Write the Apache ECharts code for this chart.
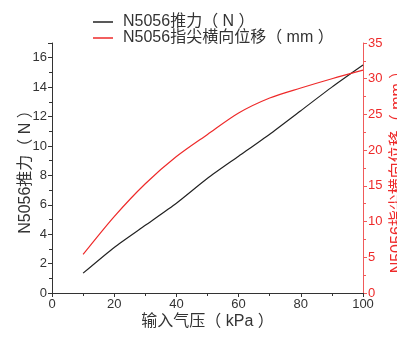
<!DOCTYPE html>
<html>
<head>
<meta charset="utf-8">
<script src="https://cdn.jsdelivr.net/npm/echarts@6/dist/echarts.min.js"></script>
<style>
  html, body { margin: 0; padding: 0; background: #fff; }
  #chart { width: 397px; height: 338px; }
</style>
</head>
<body>
<div id="chart"></div>
<script>
const pressure = [10, 20, 30, 40, 50, 60, 70, 80, 90, 100];
const thrust = [1.35, 3.1, 4.6, 6.1, 7.8, 9.3, 10.8, 12.4, 14.0, 15.5];
const displacement = [5.4, 10.7, 15.3, 19.1, 22.2, 25.2, 27.3, 28.7, 30.0, 31.2];

const font = 'Liberation Sans, Arial, Noto Sans CJK SC, sans-serif';
const black = '#222';
const red = '#ee2a2a';
const redAxis = '#f05a5a';

const chart = echarts.init(document.getElementById('chart'));

chart.setOption({
  animation: false,
  textStyle: { fontFamily: font },
  legend: {
    orient: 'vertical',
    left: 88,
    top: 9,
    itemWidth: 20,
    itemHeight: 1.5,
    itemGap: 0,
    icon: 'rect',
    textStyle: { fontSize: 16, color: '#333', fontFamily: font, padding: [0, 0, 0, 5] },
    data: ['N5056推力（ N ）', 'N5056指尖横向位移（ mm ）']
  },
  grid: { left: 52, right: 34, top: 43, bottom: 45, outerBoundsMode: 'none' },
  xAxis: {
    type: 'value',
    min: 0,
    max: 100,
    interval: 20,
    name: '输入气压（ kPa ）',
    nameLocation: 'middle',
    nameGap: 21,
    nameMoveOverlap: false,
    nameTextStyle: { fontSize: 16, color: '#333', fontFamily: font },
    axisLine: { lineStyle: { color: '#333', width: 1 } },
    axisTick: { length: 4, lineStyle: { color: '#333' } },
    minorTick: { show: true, splitNumber: 2, length: 3, lineStyle: { color: '#333' } },
    axisLabel: { fontSize: 13, color: '#333', margin: 5 },
    splitLine: { show: false }
  },
  yAxis: [
    {
      type: 'value',
      min: 0,
      max: 17,
      interval: 2,
      position: 'left',
      name: 'N5056推力（ N ）',
      nameLocation: 'middle',
      nameRotate: 90,
      nameGap: 18,
      nameMoveOverlap: false,
      nameTextStyle: { fontSize: 16, color: '#333', fontFamily: font },
      axisLine: { show: true, lineStyle: { color: '#333', width: 1 } },
      axisTick: { length: 4, lineStyle: { color: '#333' } },
      minorTick: { show: true, splitNumber: 2, length: 3, lineStyle: { color: '#333' } },
      axisLabel: { fontSize: 13, color: '#333', margin: 5, showMaxLabel: false },
      splitLine: { show: false }
    },
    {
      type: 'value',
      min: 0,
      max: 35,
      interval: 5,
      position: 'right',
      alignTicks: false,
      name: 'N5056指尖横向位移（ mm ）',
      nameLocation: 'middle',
      nameRotate: 90,
      nameGap: 27,
      nameMoveOverlap: false,
      nameTextStyle: { fontSize: 16, color: red, fontFamily: font },
      axisLine: { show: true, lineStyle: { color: redAxis, width: 1 } },
      axisTick: { length: 4, lineStyle: { color: redAxis } },
      minorTick: { show: true, splitNumber: 2, length: 3, lineStyle: { color: redAxis } },
      axisLabel: { fontSize: 13, color: red, margin: 5 },
      splitLine: { show: false }
    }
  ],
  series: [
    {
      name: 'N5056推力（ N ）',
      type: 'line',
      yAxisIndex: 0,
      data: pressure.map((p, i) => [p, thrust[i]]),
      showSymbol: false,
      smooth: 0.2,
      itemStyle: { color: black },
      lineStyle: { color: black, width: 1.2 }
    },
    {
      name: 'N5056指尖横向位移（ mm ）',
      type: 'line',
      yAxisIndex: 1,
      data: pressure.map((p, i) => [p, displacement[i]]),
      showSymbol: false,
      smooth: 0.3,
      itemStyle: { color: red },
      lineStyle: { color: red, width: 1.2 }
    }
  ]
});
</script>
</body>
</html>
